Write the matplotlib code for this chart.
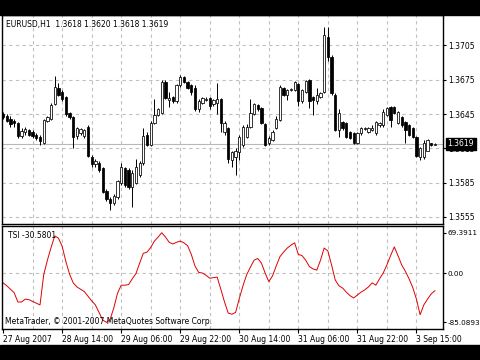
import numpy as np
import matplotlib
matplotlib.use('Agg')
import matplotlib.pyplot as plt
from matplotlib.patches import Rectangle
from matplotlib.transforms import blended_transform_factory

# EURUSD H1 bars, prices in points (1 point = 0.0001)
opens = [13645, 13643, 13641, 13639, 13637, 13626, 13629, 13631, 13629, 13627,
         13625, 13620, 13639, 13641, 13654, 13668, 13664, 13660, 13646, 13642,
         13626, 13628, 13626, 13634, 13607, 13601, 13602, 13598, 13578, 13571,
         13567, 13572, 13585, 13598, 13596, 13581, 13585, 13592, 13602, 13627,
         13618, 13637, 13644, 13646, 13673, 13657, 13660, 13656, 13670, 13677,
         13673, 13670, 13668, 13649, 13655, 13657, 13659, 13654, 13655, 13658,
         13629, 13633, 13605, 13607, 13612, 13618, 13625, 13634, 13645, 13653,
         13650, 13636, 13620, 13622, 13633, 13640, 13668, 13662, 13666, 13666,
         13671, 13656, 13664, 13675, 13660, 13656, 13660, 13664, 13712, 13695,
         13662, 13631, 13638, 13637, 13629, 13628, 13620, 13628, 13632, 13629,
         13631, 13628, 13635, 13635, 13644, 13651, 13651, 13637, 13642, 13638,
         13635, 13633, 13625, 13607, 13607, 13613, 13620, 13618]
highs = [13647, 13645, 13643, 13641, 13638, 13633, 13634, 13632, 13631, 13628,
         13627, 13641, 13643, 13655, 13678, 13672, 13666, 13661, 13647, 13643,
         13634, 13633, 13632, 13635, 13609, 13606, 13604, 13599, 13579, 13572,
         13575, 13587, 13602, 13599, 13598, 13596, 13606, 13604, 13633, 13629,
         13639, 13658, 13650, 13675, 13675, 13664, 13661, 13671, 13679, 13678,
         13674, 13671, 13670, 13658, 13660, 13660, 13660, 13658, 13672, 13659,
         13639, 13634, 13613, 13615, 13627, 13635, 13636, 13658, 13655, 13654,
         13651, 13637, 13626, 13631, 13643, 13670, 13669, 13667, 13668, 13674,
         13672, 13667, 13675, 13676, 13661, 13668, 13664, 13721, 13721, 13697,
         13663, 13649, 13639, 13638, 13630, 13629, 13629, 13634, 13634, 13634,
         13635, 13639, 13638, 13649, 13651, 13652, 13652, 13648, 13643, 13639,
         13636, 13634, 13626, 13616, 13622, 13623, 13620, 13620]
lows = [13641, 13638, 13634, 13634, 13624, 13624, 13627, 13626, 13624, 13622,
        13618, 13619, 13638, 13640, 13653, 13661, 13656, 13643, 13641, 13615,
        13623, 13627, 13624, 13607, 13599, 13599, 13594, 13576, 13569, 13561,
        13565, 13571, 13583, 13581, 13579, 13564, 13584, 13590, 13600, 13617,
        13617, 13636, 13643, 13645, 13658, 13651, 13655, 13655, 13669, 13672,
        13667, 13662, 13648, 13647, 13654, 13656, 13649, 13652, 13645, 13629,
        13627, 13602, 13599, 13592, 13605, 13616, 13624, 13633, 13644, 13648,
        13636, 13617, 13618, 13621, 13632, 13639, 13661, 13657, 13665, 13665,
        13652, 13655, 13663, 13650, 13644, 13654, 13659, 13663, 13691, 13662,
        13630, 13625, 13631, 13624, 13623, 13619, 13619, 13627, 13631, 13628,
        13630, 13627, 13634, 13634, 13643, 13634, 13645, 13636, 13634, 13620,
        13626, 13624, 13607, 13605, 13606, 13613, 13617, 13618]
closes = [13642, 13639, 13636, 13637, 13626, 13630, 13632, 13627, 13626, 13624,
          13621, 13640, 13642, 13653, 13669, 13662, 13658, 13645, 13642, 13625,
          13633, 13632, 13631, 13608, 13601, 13604, 13596, 13577, 13571, 13567,
          13573, 13586, 13599, 13583, 13581, 13593, 13599, 13602, 13626, 13618,
          13637, 13644, 13649, 13673, 13659, 13659, 13656, 13670, 13677, 13673,
          13668, 13664, 13649, 13656, 13659, 13658, 13652, 13657, 13658, 13637,
          13637, 13606, 13612, 13613, 13625, 13634, 13634, 13646, 13654, 13649,
          13637, 13618, 13624, 13629, 13641, 13669, 13662, 13666, 13667, 13673,
          13656, 13666, 13674, 13656, 13657, 13662, 13663, 13714, 13695, 13663,
          13631, 13646, 13633, 13625, 13624, 13620, 13628, 13633, 13633, 13633,
          13633, 13638, 13637, 13647, 13650, 13640, 13646, 13647, 13635, 13631,
          13627, 13625, 13608, 13615, 13620, 13622, 13618, 13619]

tsi = [-17, -22, -28, -34, -50, -50, -45, -46, -49, -52,
       -55, -3, 22, 44, 64, 60, 46, 20, -2, -17,
       -24, -28, -32, -40, -48, -55, -68, -81, -85.0893, -80,
       -60, -35, -21, -21, -20, -10, -1, 17, 34, 36,
       44, 55, 62, 69.3911, 62, 53, 50, 53, 55, 52,
       47, 32, 12, 1, 0, -4, -9, -8, -7, -28,
       -50, -69, -71, -68, -44, -22, -3, 10, 22, 25,
       17, 0, -15, -5, 12, 28, 36, 43, 48, 52,
       32, 30, 22, 11, 7, 5, 22, 43, 38, 14,
       -12, -22, -26, -33, -39, -43, -38, -33, -29, -24,
       -17, -21, -10, 0, 14, 30, 45, 30, 14, 3,
       -10, -25, -45, -72, -55, -45, -36, -30.5801]

price_ticks = [1.3555, 1.3585, 1.3615, 1.3645, 1.3675, 1.3705]
last_price = 1.3619
time_ticks = [0, 16, 32, 48, 64, 80, 96, 112]
time_labels = ['27 Aug 2007', '28 Aug 14:00', '29 Aug 06:00', '29 Aug 22:00',
               '30 Aug 14:00', '31 Aug 06:00', '31 Aug 22:00', '3 Sep 15:00']

o = np.array(opens) / 1e4
h = np.array(highs) / 1e4
l = np.array(lows) / 1e4
c = np.array(closes) / 1e4
x = np.arange(len(o))

W, H = 480, 360
plt.rcParams['font.family'] = 'DejaVu Sans'
plt.rcParams['font.size'] = 5.5
fig = plt.figure(figsize=(W / 100, H / 100), dpi=100)

def px_axes(left, top, right, bottom):
    return fig.add_axes([left / W, 1 - bottom / H, (right - left) / W, (bottom - top) / H])

# black bands of the screenshot
fig.add_artist(Rectangle((0, 1 - 15 / H), 1, 15 / H, transform=fig.transFigure, color='black'))
fig.add_artist(Rectangle((0, 0), 1, 15 / H, transform=fig.transFigure, color='black'))

grid_kw = dict(color='#c0c0c0', linestyle=(0, (3, 3)), linewidth=0.8, zorder=0)

# price panel
ax = px_axes(2, 15, 443, 224)
ax.set_xlim(-0.3, 119.2)
ax.set_ylim(1.354875, 1.3731625)
for p in price_ticks:
    ax.axhline(p, **grid_kw)
for b in range(8, 113, 8):
    ax.axvline(b, **grid_kw)
ax.axhline(last_price, color='#b8b8b8', linewidth=0.8, zorder=1)

ax.vlines(x, l, h, color='black', linewidth=0.7, zorder=2)
bull = c >= o
body = np.maximum(np.abs(c - o), 0.00003)
ax.bar(x, body, bottom=np.minimum(o, c), width=0.62,
       color=np.where(bull, 'white', 'black'), edgecolor='black', linewidth=0.55, zorder=3)

ax.set_xticks([])
ax.yaxis.tick_right()
ax.set_yticks(price_ticks)
ax.set_yticklabels([f'{p:.4f}' for p in price_ticks])
ax.tick_params(axis='y', length=2.5, width=0.8, pad=1.5, labelsize=5.5)
for s in ax.spines.values():
    s.set_linewidth(1.0)

trans = blended_transform_factory(ax.transAxes, ax.transData)
ax.text(1.01, last_price, f'{last_price:.4f}', transform=trans, color='white',
        fontsize=5.5, va='center', ha='left', zorder=10,
        bbox=dict(facecolor='black', edgecolor='black', pad=1.2), clip_on=False)

fig.text(6 / W, 1 - 24 / H, 'EURUSD,H1  1.3618 1.3620 1.3618 1.3619', fontsize=5.5, va='center')

# TSI panel
ax2 = px_axes(2, 226, 443, 329)
ax2.set_xlim(-0.3, 119.2)
ax2.set_ylim(-96.5, 81)
ax2.axhline(0, **grid_kw)
for b in range(8, 113, 8):
    ax2.axvline(b, **grid_kw)
ax2.plot(x, tsi, color='#e00000', linewidth=0.7, zorder=2)

ax2.yaxis.tick_right()
ax2.set_yticks([69.3911, 0, -85.0893])
ax2.set_yticklabels(['69.3911', '0.00', '-85.0893'])
ax2.tick_params(axis='y', length=2, width=0.8, pad=1, labelsize=5.2)
ax2.set_xticks(time_ticks)
ax2.set_xticklabels(time_labels)
ax2.tick_params(axis='x', length=3, width=0.8, pad=1.5, labelsize=5.5)
for t in ax2.get_xticklabels():
    t.set_ha('left')
for s in ax2.spines.values():
    s.set_linewidth(1.0)

ax2.text(6 / 441, 1 - 10 / 103, 'TSI -30.5801', transform=ax2.transAxes, fontsize=5.5, va='center')
ax2.text(3 / 441, 7 / 103, 'MetaTrader, \u00a9 2001-2007 MetaQuotes Software Corp.',
         transform=ax2.transAxes, fontsize=5.5, va='center', zorder=5)

fig.savefig('out.png', dpi=100, facecolor='white')
